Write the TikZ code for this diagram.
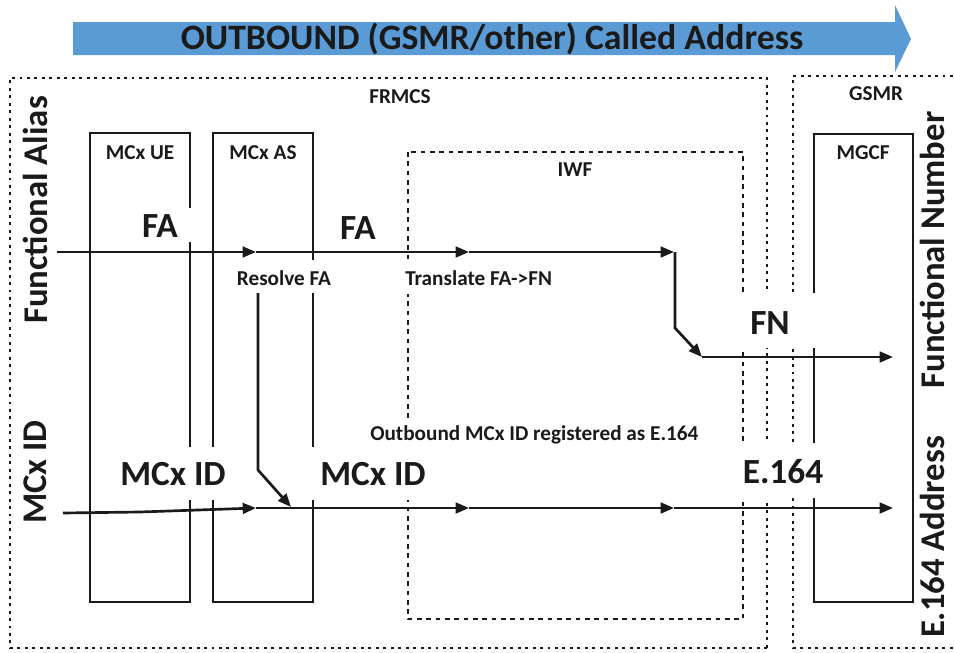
\documentclass[tikz,border=0pt]{standalone}
\usepackage{fontspec}
\setmainfont{Carlito}
\usetikzlibrary{arrows.meta}
\definecolor{bannerblue}{HTML}{5B9BD5}
\definecolor{ink}{HTML}{1A1A1A}
\begin{document}
\begin{tikzpicture}[x=0.75pt,y=-0.75pt,
  box/.style={draw=ink,line width=1.1pt},
  outerdots/.style={draw=ink,line width=1.9pt,dash pattern=on 2.2pt off 3.4pt},
  iwfdash/.style={draw=ink,line width=1.3pt,dash pattern=on 3.5pt off 3.5pt},
  gapfill/.style={fill=white,draw=none},
  flow/.style={draw=ink,line width=2pt,-{Triangle[length=10pt,width=8pt]}},
  small/.style={font=\bfseries\fontsize{15.9}{18}\selectfont,text=ink,inner sep=0pt},
  big/.style={font=\bfseries\fontsize{26.5}{30}\selectfont,text=ink,inner sep=0pt},
  side/.style={font=\bfseries\fontsize{26}{30}\selectfont,text=ink,inner sep=0pt,rotate=90},
]
\useasboundingbox (0,0) rectangle (954,653);
\fill[white] (0,0) rectangle (954,653);

% banner arrow
\fill[bannerblue] (73,22) -- (895,22) -- (895,5) -- (911,39) -- (895,72) -- (895,55) -- (73,55) -- cycle;
\node[font=\bfseries\fontsize{26.8}{30}\selectfont,text=ink,inner sep=0pt] (title) at (492,39) {OUTBOUND (GSMR/other) Called Address};

% outer dotted domains
\draw[outerdots] (767,648) -- (10,648) -- (10,78) -- (767,78) -- (767,648);
\draw[outerdots] (960,648) -- (793,648) -- (793,76) -- (960,76);

% IWF dashed box
\draw[iwfdash] (408,152) rectangle (743,619);

% solid boxes
\draw[box] (90,133) rectangle (190,602);
\draw[box] (213,133) rectangle (313,602);
\draw[box] (814,134) rectangle (913,602);

% gaps in box edges
\fill[gapfill] (185,208) rectangle (195,242);
\fill[gapfill] (185,447) rectangle (318,500);
\fill[gapfill] (308,260) rectangle (318,293);
\fill[gapfill] (402,260) rectangle (414,294);
\fill[gapfill] (402,418) rectangle (414,500);
\fill[gapfill] (738,293) rectangle (818,348);
\fill[gapfill] (738,443) rectangle (818,498);

% labels
\node[small] (frmcs) at (400,97) {FRMCS};
\node[small] (gsmr) at (876,94) {GSMR};
\node[small] (ue) at (140,153) {MCx UE};
\node[small] (as) at (263,153) {MCx AS};
\node[small] (iwf) at (575,170) {IWF};
\node[small] (mgcf) at (863,153) {MGCF};
\node[small] (resolve) at (284,278) {Resolve FA};
\node[small,anchor=west] (translate) at (405,278) {Translate FA->FN};
\node[small,anchor=west] (outb) at (370,435) {Outbound MCx ID registered as E.164};

\node[big] (fa1) at (160,226) {FA};
\node[big] (fa2) at (358,228) {FA};
\node[big] (id1) at (173,474) {MCx ID};
\node[big] (id2) at (373,474) {MCx ID};
\node[big] (fn) at (770,323) {FN};
\node[big] (e164) at (783,472) {E.164};

\node[side] (alias) at (35,210) {Functional Alias};
\node[side] (mcxid) at (35,472) {MCx ID};
\node[side] (funcnum) at (932,250) {Functional Number};
\node[side] (e164addr) at (932,537) {E.164 Address};

% connector points
\coordinate (fa0) at (57,252);
\coordinate (faA) at (256,252);
\coordinate (faB) at (469,252);
\coordinate (faC) at (674,252);
\coordinate (bend1) at (675,252);
\coordinate (bend2) at (675,328);
\coordinate (fnA) at (702,357);
\coordinate (fnEnd) at (893,357);

\coordinate (id0) at (63,513);
\coordinate (idA) at (256,508);
\coordinate (idB) at (469,508);
\coordinate (idC) at (674,508);
\coordinate (idEnd) at (893,508);

\coordinate (rs0) at (258,293);
\coordinate (rs1) at (258,470);
\coordinate (rsEnd) at (291,507);

% flows
\draw[flow] (fa0) -- (faA);
\draw[flow] (faA) -- (faB);
\draw[flow] (faB) -- (faC);
\draw[flow] (bend1) -- (bend2) -- (fnA);
\draw[flow] (fnA) -- (fnEnd);

\draw[flow] (id0) -- (140,512) -- (idA);
\draw[flow] (idA) -- (idB);
\draw[flow] (idB) -- (idC);
\draw[flow] (idC) -- (idEnd);

\draw[flow] (rs0) -- (rs1) -- (rsEnd);
\end{tikzpicture}
\end{document}
